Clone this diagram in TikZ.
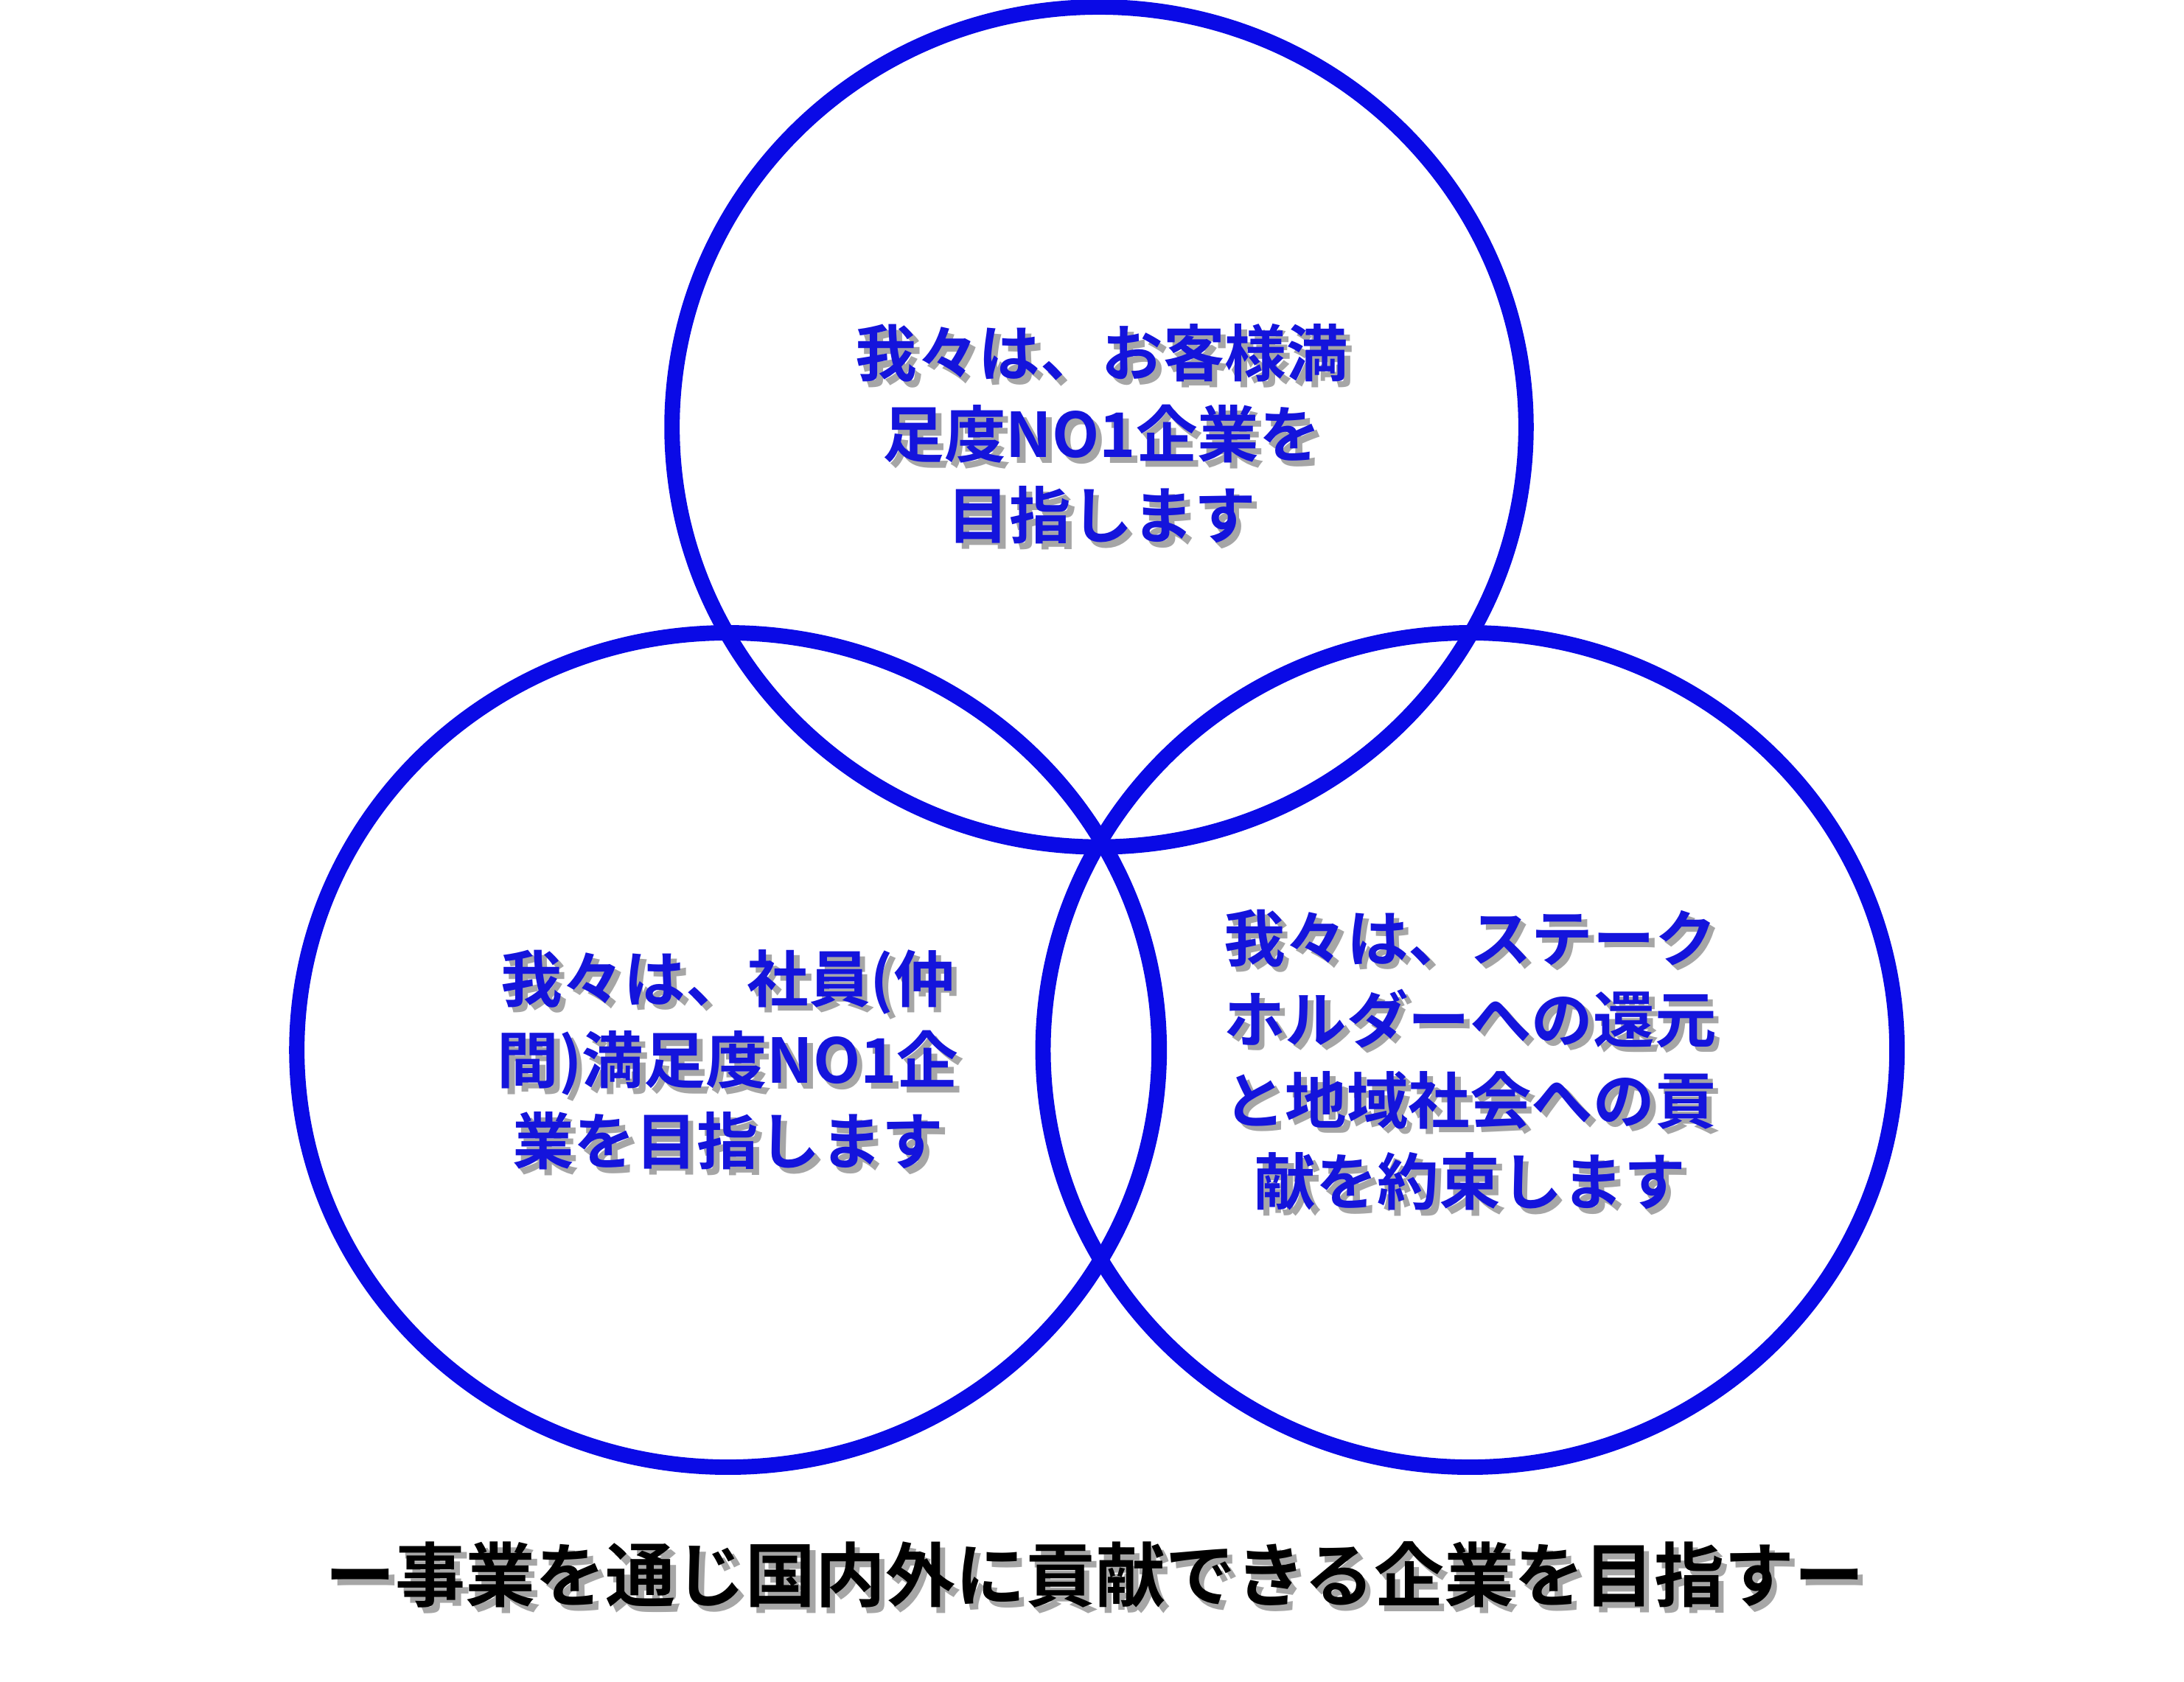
\documentclass[tikz,border=0pt]{standalone}
\usepackage{fontspec}
\newfontfamily\cjk[BoldFont={Noto Sans CJK JP Bold}]{Noto Sans CJK JP}
\begin{document}
\begin{tikzpicture}[x=1pt,y=-1pt,
  ring/.style={draw={rgb,255:red,10;green,10;blue,230},line width=11pt},
  lbl/.style={font=\cjk\bfseries\fontsize{44}{58}\selectfont,text={rgb,255:red,20;green,20;blue,220},align=center,inner sep=0pt},
  shd/.style={font=\cjk\bfseries\fontsize{44}{58}\selectfont,text=black!35,align=center,inner sep=0pt,xshift=4pt,yshift=-4pt},
  big/.style={font=\cjk\bfseries\fontsize{50}{60}\selectfont,inner sep=0pt}]
\useasboundingbox (0,0) rectangle (1560,1201);
\draw[ring] (785,305) ellipse [x radius=305,y radius=300];
\draw[ring] (520,750) ellipse [x radius=308,y radius=298];
\draw[ring] (1050,750) ellipse [x radius=305,y radius=298];
\node[shd] at (787,310) {我々は、お客様満\\足度NO1企業を\\目指します};
\node[lbl] (a) at (787,310) {我々は、お客様満\\足度NO1企業を\\目指します};
\node[shd] at (520,757) {我々は、社員(仲\\間)満足度NO1企\\業を目指します};
\node[lbl] (b) at (520,757) {我々は、社員(仲\\間)満足度NO1企\\業を目指します};
\node[shd] at (1050,757) {我々は、ステーク\\ホルダーへの還元\\と地域社会への貢\\献を約束します};
\node[lbl] (c) at (1050,757) {我々は、ステーク\\ホルダーへの還元\\と地域社会への貢\\献を約束します};
\node[big,text=black!35,xshift=4pt,yshift=-4pt] at (782,1125) {ー事業を通じ国内外に貢献できる企業を目指すー};
\node[big] (m) at (782,1125) {ー事業を通じ国内外に貢献できる企業を目指すー};
\end{tikzpicture}
\end{document}
